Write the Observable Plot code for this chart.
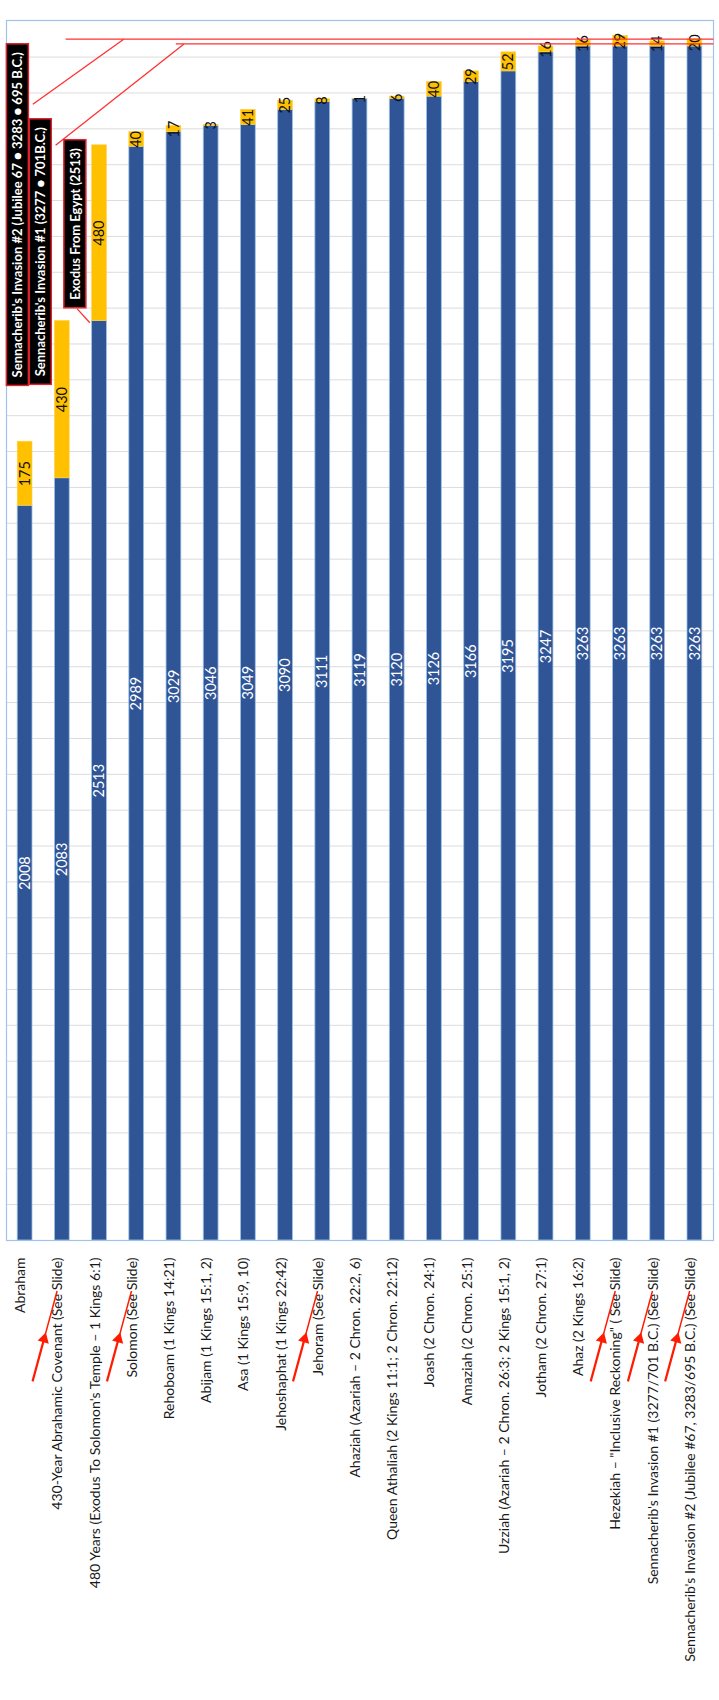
<!DOCTYPE html>
<html>
<head>
<meta charset="utf-8">
<script src="https://cdn.jsdelivr.net/npm/d3@7"></script>
<script src="https://cdn.jsdelivr.net/npm/@observablehq/plot@0.6"></script>
<style>
  html, body { margin: 0; padding: 0; background: #fff; }
  #chart svg { display: block; }
</style>
</head>
<body>
<div id="chart"></div>
<script>
const categories = [
  "Abraham",
  "430-Year Abrahamic Covenant (See Slide)",
  "480 Years (Exodus To Solomon's Temple – 1 Kings 6:1)",
  "Solomon (See Slide)",
  "Rehoboam (1 Kings 14:21)",
  "Abijam (1 Kings 15:1, 2)",
  "Asa (1 Kings 15:9, 10)",
  "Jehoshaphat (1 Kings 22:42)",
  "Jehoram (See Slide)",
  "Ahaziah (Azariah – 2 Chron. 22:2, 6)",
  "Queen Athaliah (2 Kings 11:1; 2 Chron. 22:12)",
  "Joash (2 Chron. 24:1)",
  "Amaziah (2 Chron. 25:1)",
  "Uzziah (Azariah – 2 Chron. 26:3; 2 Kings 15:1, 2)",
  "Jotham (2 Chron. 27:1)",
  "Ahaz (2 Kings 16:2)",
  "Hezekiah – \"Inclusive Reckoning\" ( See Slide)",
  "Sennacherib's Invasion #1 (3277/701 B.C.) (See Slide)",
  "Sennacherib's Invasion #2 (Jubilee #67, 3283/695 B.C.) (See Slide)"
];
const baseValues  = [2008, 2083, 2513, 2989, 3029, 3046, 3049, 3090, 3111, 3119, 3120, 3126, 3166, 3195, 3247, 3263, 3263, 3263, 3263];
const addedValues = [175, 430, 480, 40, 17, 3, 41, 25, 8, 1, 6, 40, 29, 52, 16, 16, 29, 14, 20];
const gridTicks = d3.range(0, 3300, 98);

// annotation callouts (data units: x = category index, y = years)
const calloutTexts = [
  "Sennacherib's Invasion #2 (Jubilee 67 ● 3283 ● 695 B.C.)",
  "Sennacherib's Invasion #1 (3277 ● 701B.C.)",
  "Exodus From Egypt (2513)"
];
const calloutX = [0.315, 0.93, 1.86];
const calloutY = [2803, 2702, 2778];
const leaderLines = [
  {x1: 1.59, y1: 3283, x2: 19, y2: 3283},
  {x1: 4.55, y1: 3270, x2: 19, y2: 3270},
  {x1: 0.708, y1: 3105, x2: 3.15, y2: 3283},
  {x1: 1.32, y1: 2993, x2: 4.77, y2: 3270},
  {x1: 1.90, y1: 2546, x2: 2.24, y2: 2508}
];
const arrowAfter = [0, 2, 7, 15, 16, 17];

const baseRows = categories.map((c, i) => ({i, y1: 0, y2: baseValues[i], label: String(baseValues[i])}));
const addRows = categories.map((c, i) => ({i, y1: baseValues[i], y2: baseValues[i] + addedValues[i], label: String(addedValues[i])}));
const callouts = calloutTexts.map((t, k) => ({text: t, x: calloutX[k], y: calloutY[k]}));
const arrows = arrowAfter.map(i => {
  const x1 = i + 0.70, y1 = -385, x2 = i + 1.36, y2 = -138;
  return {x1, y1, x2, y2, xm: x1 + (x2 - x1) * 0.47, ym: y1 + (y2 - y1) * 0.47};
});

const inset = 11.2;
const chart = Plot.plot({
  width: 719,
  height: 1700,
  marginLeft: 6,
  marginRight: 6,
  marginTop: 20,
  marginBottom: 460,
  style: {fontFamily: "Lato, 'Open Sans', sans-serif", background: "#fff"},
  x: {domain: [0, 19], axis: null},
  y: {domain: [0, 3334], axis: null},
  marks: [
    Plot.ruleY(gridTicks, {stroke: "#dcdcdc", strokeWidth: 1}),
    Plot.frame({stroke: "#9fc3ea", strokeWidth: 1.2}),
    Plot.rect(baseRows, {x1: "i", x2: d => d.i + 1, y1: "y1", y2: "y2", fill: "#2f5597", stroke: "#9dc3e6", strokeWidth: 0.8, insetLeft: inset, insetRight: inset}),
    Plot.rect(addRows, {x1: "i", x2: d => d.i + 1, y1: "y1", y2: "y2", fill: "#ffc000", stroke: "#ffd34d", strokeWidth: 0.6, insetLeft: inset, insetRight: inset}),
    Plot.text(baseRows, {x: d => d.i + 0.5, y: d => (d.y1 + d.y2) / 2, text: "label", rotate: -90, fill: "white", fontSize: 14.5}),
    Plot.text(addRows, {x: d => d.i + 0.5, y: d => (d.y1 + d.y2) / 2, text: "label", rotate: -90, fill: "#111", fontSize: 14.5}),
    Plot.text(categories, {x: (d, i) => i + 0.5, frameAnchor: "bottom", dy: 17, text: d => d, rotate: -90, textAnchor: "end", fill: "#1a1a1a", fontSize: 14}),
    Plot.link(leaderLines, {x1: "x1", y1: "y1", x2: "x2", y2: "y2", stroke: "#ff3030", strokeWidth: 1.3}),
    Plot.link(arrows, {x1: "x1", y1: "y1", x2: "xm", y2: "ym", stroke: "#ff1a00", strokeWidth: 2.2}),
    Plot.link(arrows, {x1: "xm", y1: "ym", x2: "x2", y2: "y2", stroke: "#ff1a00", strokeWidth: 1.5}),
    Plot.dot(arrows, {x: "xm", y: "ym", symbol: "triangle2", r: 5.5, fill: "#ff1a00", stroke: "none", rotate: 15.5}),
    Plot.text(callouts, {x: "x", y: "y", text: "text", rotate: -90, fill: "white", fontWeight: "bold", fontSize: 13, ariaDescription: "callout"})
  ]
});
document.getElementById("chart").appendChild(chart);

// draw black boxes with red borders behind callout texts
const ns = "http://www.w3.org/2000/svg";
let texts = chart.querySelectorAll('g[aria-description="callout"] text');
if (!texts.length) texts = Array.from(chart.querySelectorAll("text")).filter(t => calloutTexts.includes(t.textContent));
texts.forEach(t => {
  const b = t.getBBox();
  const padX = 8, padY = 3.5;
  const r = document.createElementNS(ns, "rect");
  r.setAttribute("x", b.x - padX);
  r.setAttribute("y", b.y - padY + 0.5);
  r.setAttribute("width", b.width + 2 * padX);
  r.setAttribute("height", b.height + 2 * padY - 1);
  r.setAttribute("fill", "#000");
  r.setAttribute("stroke", "#e0202a");
  r.setAttribute("stroke-width", "1.5");
  const tr = t.getAttribute("transform");
  if (tr) r.setAttribute("transform", tr);
  t.parentNode.insertBefore(r, t);
});
</script>
</body>
</html>
